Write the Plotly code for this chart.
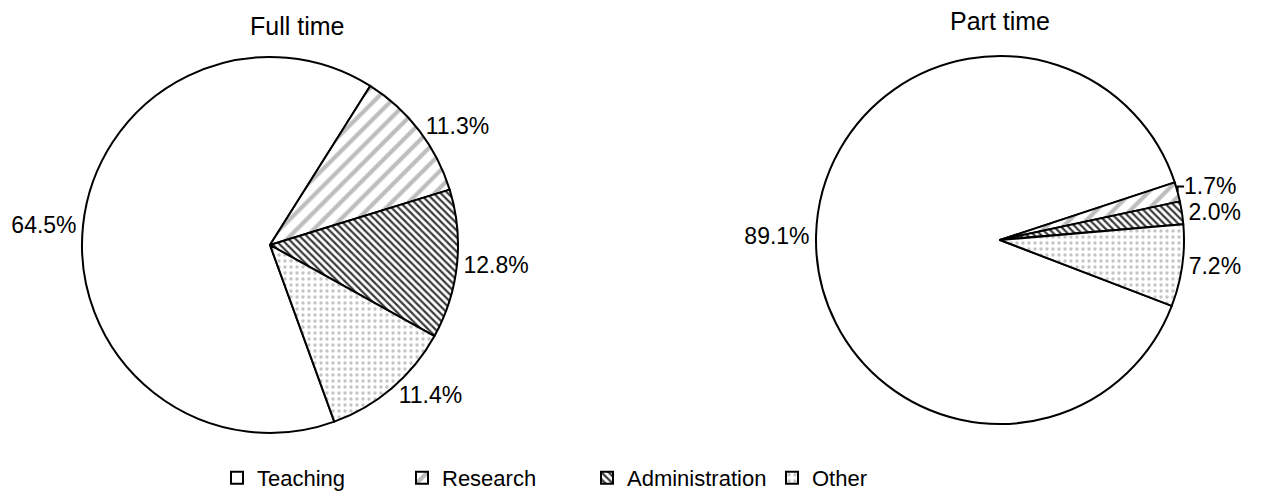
import plotly.graph_objects as go

categories = ["Teaching", "Research", "Administration", "Other"]
full_time = [64.5, 11.3, 12.8, 11.4]
part_time = [89.1, 1.7, 2.0, 7.2]
titles = ["Full time", "Part time"]

FONT = "Liberation Sans, Arial, sans-serif"

W, H = 1261, 501
def px(x):
    return x / W
def py(y):
    return 1 - y / H

patterns = dict(
    shape=["", "/", "\\", "."],
    fgcolor=["#ffffff", "#bdbdbd", "#3a3a3a", "#c4c4c4"],
    bgcolor=["#ffffff", "#ffffff", "#ffffff", "#ffffff"],
    size=[8, 12, 5, 6],
    solidity=[0.3, 0.35, 0.45, 0.25],
    fillmode="replace",
)

def make_pie(values, cx, cy, r, rotation, show_legend):
    return go.Pie(
        labels=categories,
        values=values,
        sort=False,
        direction="clockwise",
        rotation=rotation,
        domain=dict(x=[px(cx - r), px(cx + r)], y=[py(cy + r), py(cy - r)]),
        marker=dict(colors=["#ffffff"] * 4, line=dict(color="#000000", width=2), pattern=patterns),
        textposition="outside",
        texttemplate="%{value:.1f}%",
        textfont=dict(family=FONT, size=23, color="#000000"),
        showlegend=show_legend,
        hoverinfo="label+value",
    )

fig = go.Figure()
fig.add_trace(make_pie(full_time, 270, 245, 188, 160, True))
fig.add_trace(make_pie(part_time, 1000, 240, 184, 111, False))

fig.add_annotation(text=titles[0], x=px(297), y=py(26), xref="paper", yref="paper",
                   xanchor="center", yanchor="middle",
                   showarrow=False, font=dict(family=FONT, size=25, color="#000000"))
fig.add_annotation(text=titles[1], x=px(1000), y=py(21), xref="paper", yref="paper",
                   xanchor="center", yanchor="middle",
                   showarrow=False, font=dict(family=FONT, size=25, color="#000000"))

fig.update_layout(
    width=W,
    height=H,
    margin=dict(l=0, r=0, t=0, b=0),
    paper_bgcolor="#ffffff",
    plot_bgcolor="#ffffff",
    legend=dict(
        orientation="h",
        x=px(217),
        xanchor="left",
        y=py(478),
        yanchor="middle",
        font=dict(family=FONT, size=22, color="#000000"),
        entrywidth=140,
        itemwidth=30,
    ),
)

fig.write_html("out.html", config={"displayModeBar": False},
               post_script="document.body.style.margin='0';")
